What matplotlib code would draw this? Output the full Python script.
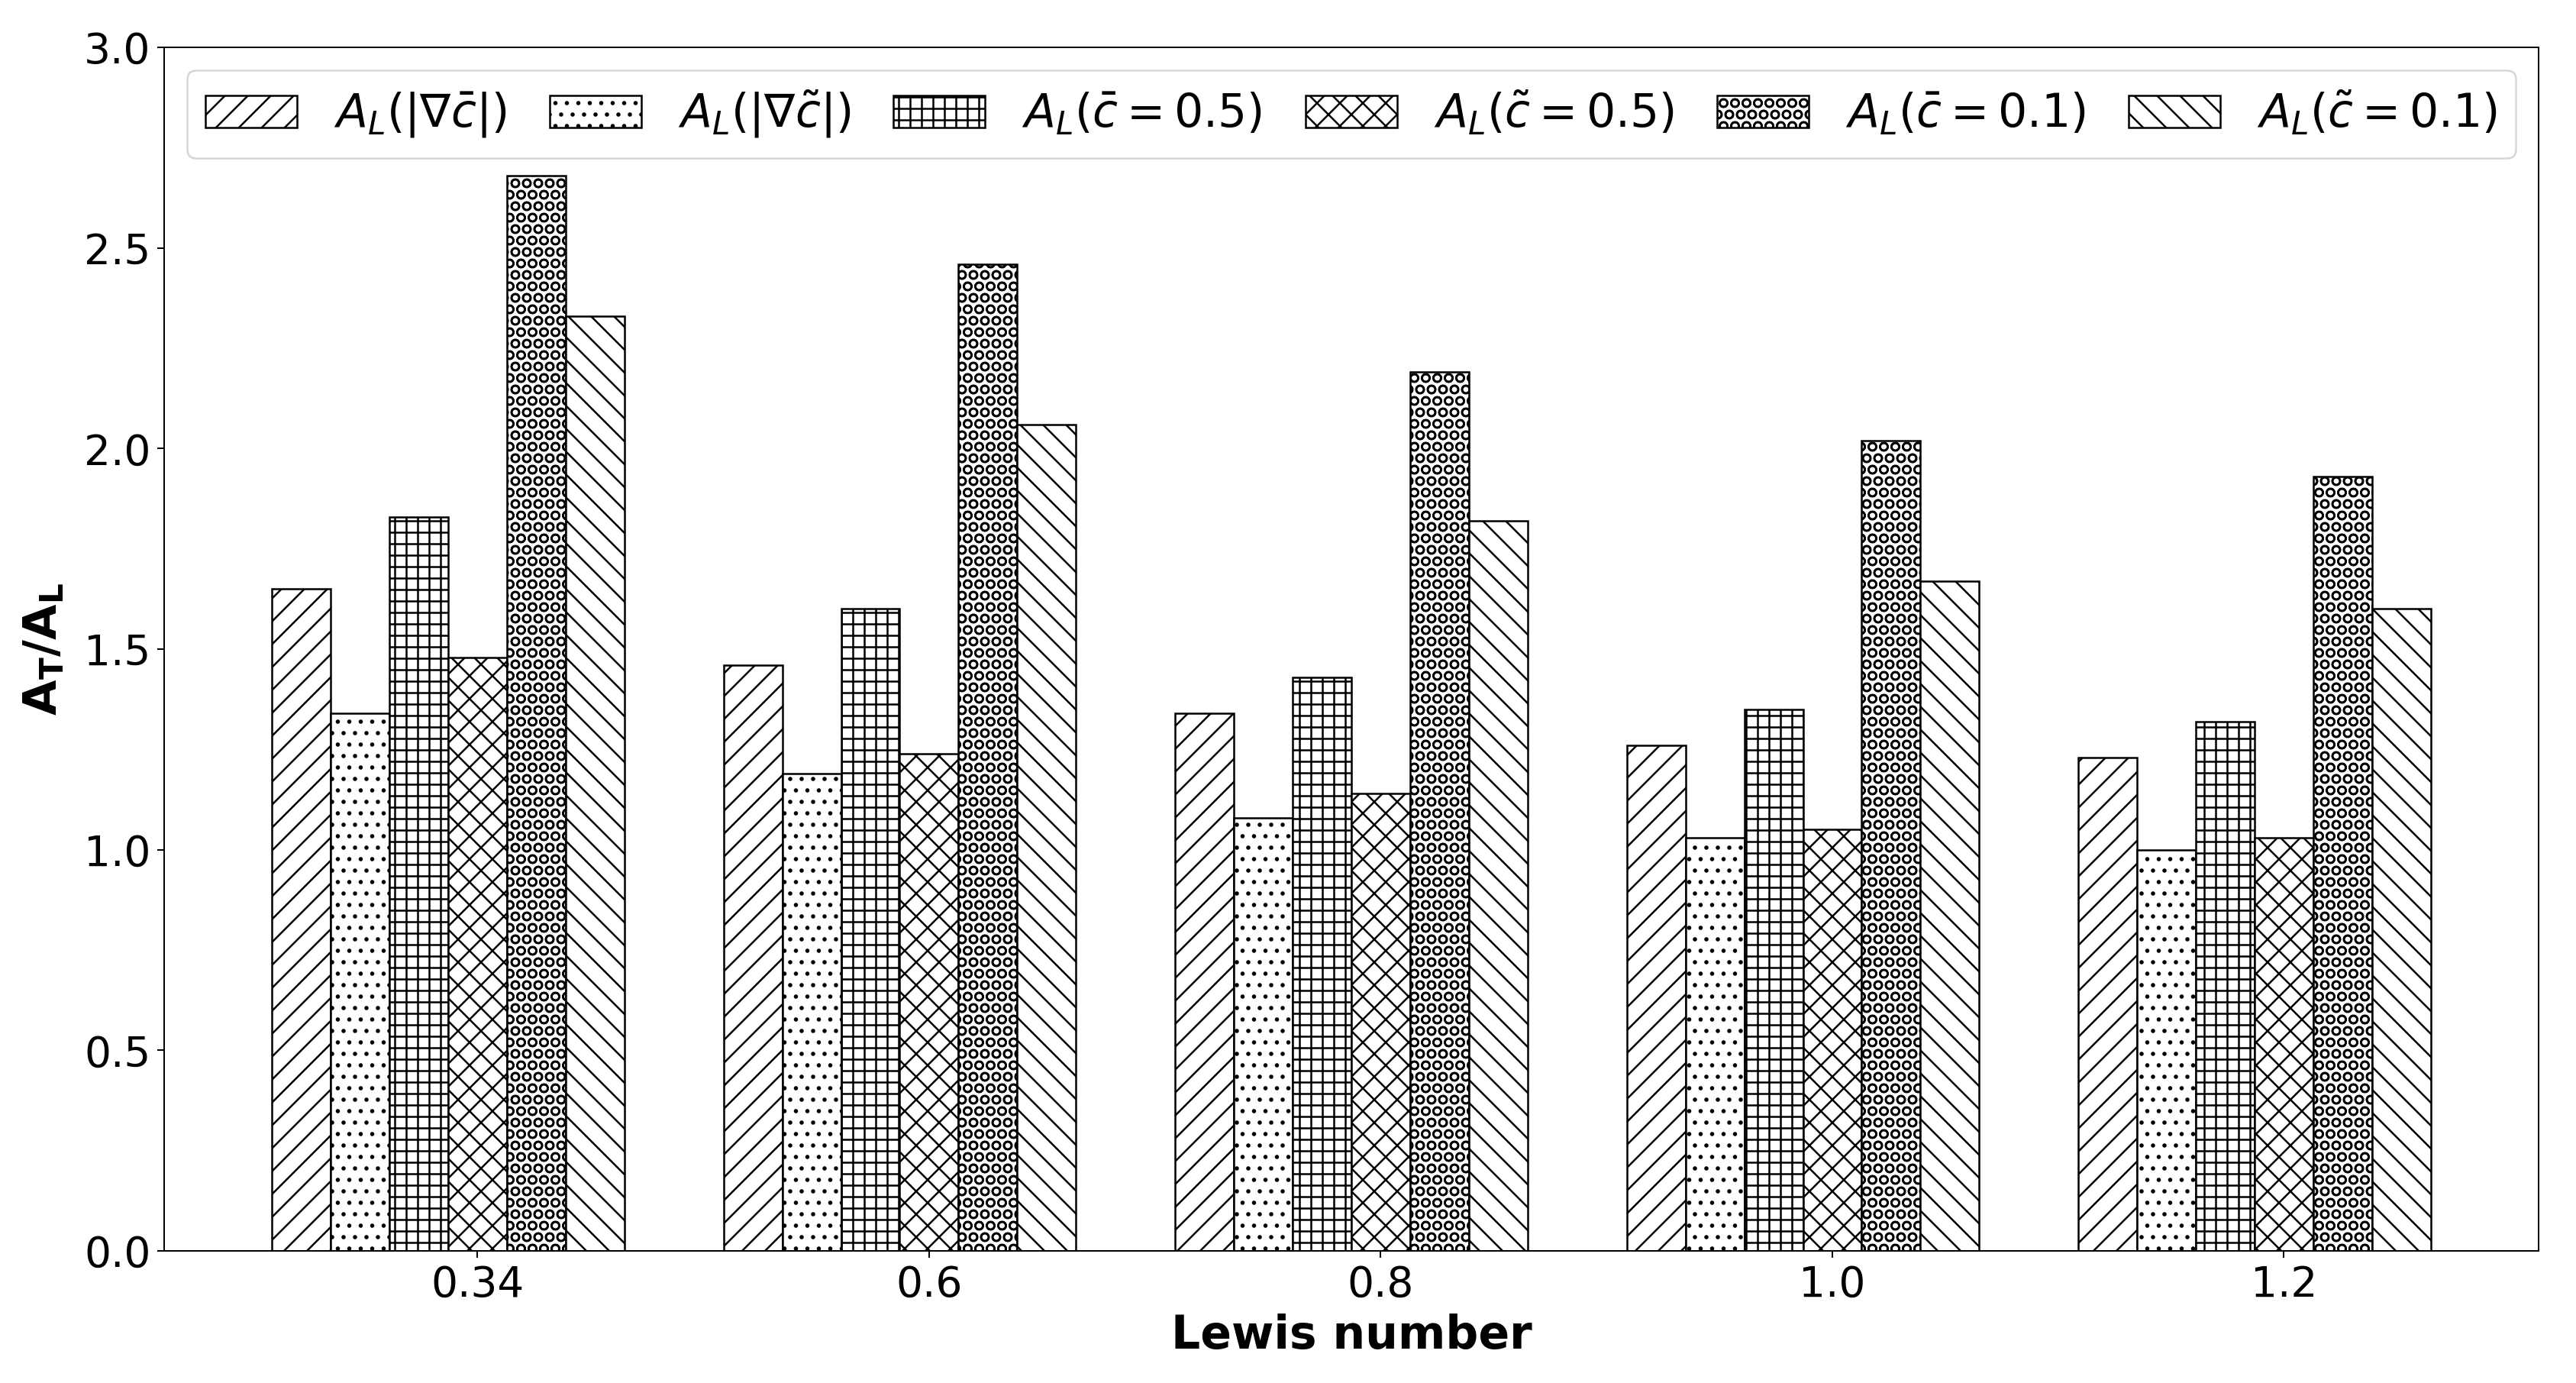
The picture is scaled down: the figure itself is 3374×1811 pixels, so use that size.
import numpy as np
import matplotlib
matplotlib.use("Agg")
import matplotlib.pyplot as plt

# ============ data ============
lewis = ["0.34", "0.6", "0.8", "1.0", "1.2"]
grad_cbar   = [1.65, 1.46, 1.34, 1.26, 1.23]
grad_ctilde = [1.34, 1.19, 1.08, 1.03, 1.00]
cbar_05     = [1.83, 1.60, 1.43, 1.35, 1.32]
ctilde_05   = [1.48, 1.24, 1.14, 1.05, 1.03]
cbar_01     = [2.68, 2.46, 2.19, 2.02, 1.93]
ctilde_01   = [2.33, 2.06, 1.82, 1.67, 1.60]

series = [grad_cbar, grad_ctilde, cbar_05, ctilde_05, cbar_01, ctilde_01]
labels = [
    r"$A_L(|\nabla \bar{c}|)$",
    r"$A_L(|\nabla \tilde{c}|)$",
    r"$A_L(\bar{c}=0.5)$",
    r"$A_L(\tilde{c}=0.5)$",
    r"$A_L(\bar{c}=0.1)$",
    r"$A_L(\tilde{c}=0.1)$",
]
hatches = ["//", "..", "++", "xx", "OO", "\\\\"]

# ============ plot ============
fig = plt.figure(figsize=(3374 / 180, 1811 / 180), dpi=180)
ax = fig.add_axes([0.0637, 0.0955, 0.9218, 0.8703])

x = np.arange(len(lewis))
w = 0.13
for i, (vals, lab, h) in enumerate(zip(series, labels, hatches)):
    ax.bar(x + (i - 3) * w, vals, w, label=lab, hatch=h,
           facecolor="white", edgecolor="black", linewidth=1)

ax.set_xticks(x)
ax.set_xticklabels(lewis)
ax.set_ylim(0, 3.0)
ax.tick_params(labelsize=22)
ax.set_xlabel("Lewis number", fontsize=24, fontweight="bold")
ax.set_ylabel(r"$\mathbf{A_T/A_L}$", fontsize=24, labelpad=9)
ax.legend(loc="upper center", ncol=6, fontsize=24, mode="expand")

fig.savefig("out.png", dpi=180, facecolor="white")
